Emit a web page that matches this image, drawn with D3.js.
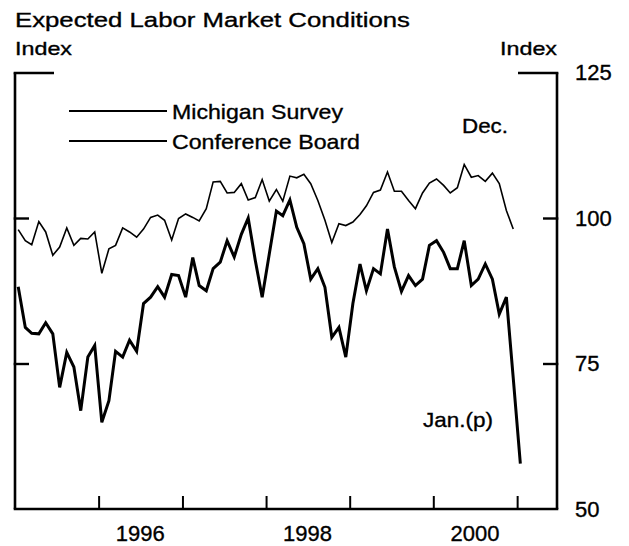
<!DOCTYPE html>
<html>
<head>
<meta charset="utf-8">
<script src="https://cdn.jsdelivr.net/npm/d3@7"></script>
<style>
body { margin: 0; background: #fff; }
text { font-family: "Liberation Sans", Arial, Helvetica, sans-serif; fill: #000; stroke: #000; stroke-width: 0.35px; }
</style>
</head>
<body>
<script>
var width = 629;
var height = 546;

// monthly values, Jan 1995 onwards
var michigan = [
  88.2, 81.2, 80.2, 80.1, 82.0, 80.1, 70.9, 76.9, 74.4, 66.9, 76.1, 78.1,
  64.9, 68.6, 77.1, 76.1, 79.0, 77.1, 85.3, 86.4, 88.2, 86.4, 90.3, 90.1,
  86.4, 93.2, 88.4, 87.5, 91.3, 92.4, 96.1, 93.3, 97.2, 100.0, 92.7, 86.4,
  93.8, 101.2, 100.4, 103.1, 98.4, 95.6, 89.5, 91.3, 88.1, 79.5, 81.2, 76.1,
  85.3, 92.1, 87.5, 91.3, 90.4, 98.1, 91.6, 87.4, 90.1, 88.4, 89.5, 95.3,
  96.1, 94.1, 91.3, 91.3, 96.1, 88.4, 89.5, 92.1, 89.5, 83.5, 86.4, 72.5, 57.8
];
var confBoard = [
  98.0, 96.1, 95.4, 99.4, 97.6, 93.6, 95.0, 98.3, 95.3, 96.5, 96.4, 97.6,
  90.5, 94.7, 95.3, 98.3, 97.6, 96.7, 98.1, 100.1, 100.5, 99.6, 96.2, 99.9,
  100.7, 100.1, 99.5, 101.6, 106.2, 106.3, 104.3, 104.4, 105.9, 103.1, 103.5, 106.6,
  102.9, 104.9, 102.9, 107.2, 106.9, 107.5, 105.9, 103.0, 99.6, 95.8, 99.0, 98.7,
  99.3, 100.6, 102.1, 104.4, 104.8, 107.9, 104.6, 104.6, 103.0, 101.6, 104.3, 106.0,
  106.7, 105.6, 104.3, 105.2, 109.2, 107.0, 107.3, 106.3, 107.7, 105.9, 101.3, 98.1
];
var startYear = 1995;
var tickYears = [1996, 1997, 1998, 1999, 2000, 2001];
var labelYears = [1996, 1998, 2000];
var yTicks = [50, 75, 100, 125];
var seriesNames = ["Michigan Survey", "Conference Board"];

function monthDate(i) {
  return new Date(startYear, i, 15);
}

var svg = d3.select("body").append("svg")
  .attr("width", width)
  .attr("height", height);

var x = d3.scaleTime()
  .domain([new Date(1995, 0, 1), new Date(2001, 5, 24)])
  .range([15, 557]);

var y = d3.scaleLinear()
  .domain([50, 125])
  .range([509, 72.5]);

// title and unit labels
svg.append("text")
  .attr("x", 15).attr("y", 27)
  .attr("font-size", 20.5)
  .attr("textLength", 395).attr("lengthAdjust", "spacingAndGlyphs")
  .text("Expected Labor Market Conditions");

svg.append("text")
  .attr("x", 15).attr("y", 55)
  .attr("font-size", 19)
  .attr("textLength", 57).attr("lengthAdjust", "spacingAndGlyphs")
  .text("Index");

svg.append("text")
  .attr("x", 500).attr("y", 55)
  .attr("font-size", 19)
  .attr("textLength", 57).attr("lengthAdjust", "spacingAndGlyphs")
  .text("Index");

// frame
var frame = svg.append("g")
  .attr("stroke", "#000")
  .attr("stroke-width", 2.6)
  .attr("fill", "none");

frame.append("line").attr("x1", x.range()[0]).attr("x2", x.range()[0]).attr("y1", y(125)).attr("y2", y(50));
frame.append("line").attr("x1", x.range()[1]).attr("x2", x.range()[1]).attr("y1", y(125)).attr("y2", y(50));
frame.append("line").attr("x1", x.range()[0] - 1.3).attr("x2", x.range()[1] + 1.3).attr("y1", y(50)).attr("y2", y(50));

// year ticks (inward)
var xAxis = svg.append("g")
  .attr("transform", "translate(0," + y(50) + ")")
  .call(d3.axisBottom(x)
    .tickValues(tickYears.map(function(yr) { return new Date(yr, 0, 1); }))
    .tickSize(-13)
    .tickFormat(""));
xAxis.select(".domain").remove();
xAxis.selectAll(".tick line").attr("stroke-width", 2);

svg.selectAll(".yearLabel")
  .data(labelYears)
  .enter().append("text")
  .attr("class", "yearLabel")
  .attr("x", function(d) { return x(new Date(d, 6, 1)); })
  .attr("y", 541)
  .attr("text-anchor", "middle")
  .attr("font-size", 22)
  .text(function(d) { return d; });

// left ticks
var leftAxis = svg.append("g")
  .attr("transform", "translate(" + x.range()[0] + ",0)")
  .call(d3.axisLeft(y)
    .tickValues(yTicks.slice(1))
    .tickSize(-14)
    .tickFormat(""));
leftAxis.select(".domain").remove();
leftAxis.selectAll(".tick line")
  .attr("stroke-width", 2.4)
  .attr("x1", -1.3)
  .attr("x2", function(d) { return d === 125 ? 39 : 14; });

// right ticks with labels
var rightAxis = svg.append("g")
  .attr("transform", "translate(" + x.range()[1] + ",0)")
  .call(d3.axisRight(y)
    .tickValues(yTicks)
    .tickSize(-14)
    .tickPadding(18));
rightAxis.select(".domain").remove();
rightAxis.selectAll(".tick line")
  .attr("stroke-width", 2.4)
  .attr("x1", 1.3)
  .attr("x2", function(d) { return d === 125 ? -39 : -14; })
  .style("display", function(d) { return d === 50 ? "none" : null; });
rightAxis.selectAll(".tick text")
  .attr("font-size", 22)
  .attr("font-family", null);

// series
var line = d3.line()
  .x(function(d, i) { return x(monthDate(i)); })
  .y(function(d) { return y(d); });

svg.append("path")
  .datum(confBoard)
  .attr("d", line)
  .attr("fill", "none")
  .attr("stroke", "#000")
  .attr("stroke-width", 1.6)
  .attr("stroke-linejoin", "miter");

svg.append("path")
  .datum(michigan)
  .attr("d", line)
  .attr("fill", "none")
  .attr("stroke", "#000")
  .attr("stroke-width", 3)
  .attr("stroke-linejoin", "miter");

// legend
var legend = svg.selectAll(".legend")
  .data(seriesNames)
  .enter().append("g")
  .attr("class", "legend")
  .attr("transform", function(d, i) { return "translate(0," + (111 + i * 30) + ")"; });

legend.append("line")
  .attr("x1", 69).attr("x2", 167)
  .attr("stroke", "#000")
  .attr("stroke-width", 2);

legend.append("text")
  .attr("x", 172).attr("y", 7.5)
  .attr("font-size", 21)
  .attr("textLength", function(d, i) { return i === 0 ? 171 : 188; })
  .attr("lengthAdjust", "spacingAndGlyphs")
  .text(function(d) { return d; });

// annotations
svg.append("text")
  .attr("x", 462).attr("y", 133)
  .attr("font-size", 21)
  .attr("textLength", 46).attr("lengthAdjust", "spacingAndGlyphs")
  .text("Dec.");

svg.append("text")
  .attr("x", 423).attr("y", 427)
  .attr("font-size", 21)
  .attr("textLength", 70).attr("lengthAdjust", "spacingAndGlyphs")
  .text("Jan.(p)");
</script>
</body>
</html>
